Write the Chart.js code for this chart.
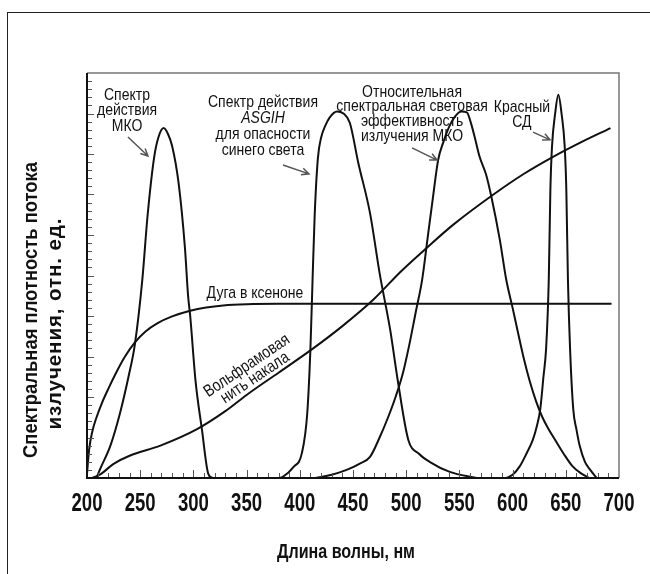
<!DOCTYPE html>
<html lang="ru">
<head>
<meta charset="utf-8">
<title>Спектральная плотность потока излучения</title>
<script src="https://cdn.jsdelivr.net/npm/chart.js@4.4.1/dist/chart.umd.min.js"></script>
<style>
  html, body { margin: 0; padding: 0; background: #fff; overflow: hidden; }
  #wrap { position: relative; width: 650px; height: 574px; }
  #ramka { position: absolute; left: 7px; top: 12px; width: 660px; height: 580px;
           border-left: 1.5px solid #222; border-top: 1.5px solid #222; }
  canvas { position: absolute; left: 0; top: 0; }
</style>
</head>
<body>
<div id="wrap">
  <div id="ramka"></div>
  <canvas id="grafik" width="650" height="574"></canvas>
</div>
<script>
// Arial-подобный шрифт, сжатый по горизонтали (как Arial Narrow в оригинале)
const SHRIFT = '"Liberation Sans", Arial, sans-serif';

// --- данные (длина волны, нм / отн. ед.) ---
const xTiki = [200, 250, 300, 350, 400, 450, 500, 550, 600, 650, 700];

// Спектр действия МКО (УФ)
const mkoVolna = [209, 212, 222, 231, 239, 245, 252, 257, 263, 267, 272, 276, 280, 286, 292, 295, 297, 302, 308, 314, 318];
const mkoZnach = [0, 0.02, 0.08, 0.16, 0.25, 0.33, 0.49, 0.65, 0.79, 0.84, 0.864, 0.85, 0.82, 0.73, 0.57, 0.45, 0.40, 0.24, 0.12, 0.01, 0];

// Спектр действия ASGIH (опасность синего света)
const asgihVolna = [380, 384, 394, 402, 407, 410, 412, 414, 417, 420, 424, 428, 435, 441, 447, 455, 466, 475, 485, 492, 502, 512, 522, 541, 566];
const asgihZnach = [0, 0.003, 0.027, 0.062, 0.16, 0.32, 0.49, 0.65, 0.79, 0.84, 0.87, 0.89, 0.905, 0.9, 0.877, 0.778, 0.654, 0.506, 0.365, 0.242, 0.094, 0.06, 0.04, 0.015, 0];

// Относительная спектральная световая эффективность МКО, V(λ)
const vVolna = [415, 430, 444, 456, 466, 475, 483, 490, 497, 503, 509, 515, 520, 525, 530, 535, 540, 546, 552, 557, 561, 565, 569, 575, 580, 588, 594, 600, 605, 611, 616, 622, 628, 634, 640, 648, 656, 664, 672];
const vZnach = [0, 0.008, 0.02, 0.035, 0.052, 0.10, 0.15, 0.2, 0.26, 0.33, 0.41, 0.49, 0.59, 0.69, 0.785, 0.83, 0.865, 0.893, 0.905, 0.903, 0.875, 0.835, 0.793, 0.75, 0.695, 0.588, 0.49, 0.42, 0.36, 0.29, 0.24, 0.19, 0.15, 0.12, 0.094, 0.06, 0.03, 0.012, 0];

// Красный СД
const sdVolna = [594, 600, 607, 613, 619, 623, 626, 629, 631.5, 634, 635.5, 637, 640, 643, 646, 649, 650.5, 652, 654, 657, 660, 663, 668, 673, 679];
const sdZnach = [0, 0.008, 0.03, 0.06, 0.094, 0.13, 0.17, 0.25, 0.32, 0.49, 0.711, 0.817, 0.9, 0.946, 0.9, 0.817, 0.711, 0.49, 0.32, 0.17, 0.12, 0.08, 0.04, 0.02, 0];

// Вольфрамовая нить накала
const wVolna = [205, 212, 225, 240, 269, 303, 330, 350, 380, 410, 440, 469, 495, 520, 544, 582, 610, 638, 665, 692];
const wZnach = [0, 0.008, 0.035, 0.055, 0.08, 0.12, 0.165, 0.205, 0.26, 0.315, 0.375, 0.44, 0.51, 0.57, 0.625, 0.70, 0.75, 0.793, 0.83, 0.864];

// Дуга в ксеноне
const xeVolna = [200, 202, 205, 209, 214, 220, 227, 235, 245, 255, 266, 280, 297, 312, 328, 350, 380, 693];
const xeZnach = [0.01, 0.07, 0.115, 0.15, 0.185, 0.22, 0.258, 0.297, 0.335, 0.362, 0.382, 0.399, 0.413, 0.421, 0.426, 0.429, 0.43, 0.43];

// подписи на поле графика (якорь в координатах данных)
const podpisi = [
  { stroki: ['Спектр', 'действия', 'МКО'], x: 237.6, y: 0.946, shag: 15.5 },
  { stroki: ['Спектр действия', 'ASGIH', 'для опасности', 'синего света'], x: 365.4, y: 0.928, shag: 16, kursiv: [1] },
  { stroki: ['Относительная', 'спектральная световая', 'эффективность', 'излучения МКО'], x: 505.5, y: 0.953, shag: 14.7 },
  { stroki: ['Красный', 'СД'], x: 608.8, y: 0.916, shag: 15 },
  { stroki: ['Дуга в ксеноне'], x: 357.9, y: 0.457, shag: 15 },
  { stroki: ['Вольфрамовая', 'нить накала'], x: 354.1, y: 0.262, shag: 14.5, ugol: -34 }
];
const strelki = [
  { ot: [238.5, 0.842], k: [257.3, 0.795] },
  { ot: [384.2, 0.773], k: [408.6, 0.751] },
  { ot: [505.5, 0.815], k: [529.0, 0.785] },
  { ot: [619.2, 0.854], k: [635.2, 0.835] }
];

const tochki = (volna, znach) => volna.map((l, i) => ({ x: l, y: znach[i] }));

// сжатие: подбираем коэффициент по ширине образца
function szhatie(ctx, font, obrazec, shirina) {
  ctx.font = font;
  ctx.letterSpacing = '0px';
  return shirina / ctx.measureText(obrazec).width;
}
function tekst(ctx, s, x, y, font, sx, razryadka) {
  ctx.save();
  ctx.translate(x, y);
  ctx.scale(sx, 1);
  ctx.font = font;
  ctx.letterSpacing = (razryadka || 0) + 'px';
  ctx.fillText(s, 0, 0);
  ctx.restore();
}

// рамка поля и внутренние засечки
const ramkaPlugin = {
  id: 'ramka',
  afterDatasetsDraw(chart) {
    const { ctx, chartArea: a, scales: { x, y } } = chart;
    ctx.save();
    ctx.strokeStyle = '#555';
    ctx.lineWidth = 1;
    for (let l = 210; l < 700; l += 10) {
      const px = Math.round(x.getPixelForValue(l)) + 0.5;
      const dl = l % 50 === 0 ? 8 : 5;
      ctx.beginPath(); ctx.moveTo(px, a.bottom); ctx.lineTo(px, a.bottom - dl); ctx.stroke();
    }
    for (let i = 1; i < 50; i++) {
      const py = Math.round(y.getPixelForValue(i * 0.02)) + 0.5;
      const dl = i % 5 === 0 ? 7 : 5;
      ctx.beginPath(); ctx.moveTo(a.left, py); ctx.lineTo(a.left + dl, py); ctx.stroke();
    }
    ctx.strokeStyle = '#777';
    ctx.lineWidth = 1.5;
    ctx.beginPath(); ctx.moveTo(a.left, a.top); ctx.lineTo(a.right, a.top); ctx.lineTo(a.right, a.bottom); ctx.stroke();
    ctx.strokeStyle = '#111';
    ctx.lineWidth = 2;
    ctx.beginPath(); ctx.moveTo(a.left, a.top); ctx.lineTo(a.left, a.bottom); ctx.lineTo(a.right, a.bottom); ctx.stroke();
    ctx.restore();
  }
};

// подписи делений, заголовки осей, подписи кривых и стрелки
const podpisiPlugin = {
  id: 'podpisi',
  afterDraw(chart) {
    const { ctx, chartArea: a, scales: { x, y } } = chart;
    ctx.save();
    ctx.fillStyle = '#111';
    ctx.textAlign = 'center';
    ctx.textBaseline = 'middle';

    // подписи делений оси X
    const fTik = 'bold 25px ' + SHRIFT;
    const sxTik = szhatie(ctx, fTik, '700', 31);
    x.ticks.forEach(t => tekst(ctx, String(t.value), x.getPixelForValue(t.value), a.bottom + 26, fTik, sxTik));

    // заголовок оси X
    const fX = 'bold 20px ' + SHRIFT;
    tekst(ctx, 'Длина волны, нм', (a.left + a.right) / 2 - 7, 552, fX, szhatie(ctx, fX, 'Длина волны, нм', 138));

    // заголовок оси Y (две строки, повернут); вторая строка чуть шире и с небольшой разрядкой
    const fY = 'bold 20px ' + SHRIFT;
    const s1 = 'Спектральная плотность потока', s2 = 'излучения, отн. ед.';
    const sxY = szhatie(ctx, fY, s1, 296);
    const sx2 = sxY * 1.12;
    const w2 = ctx.measureText(s2).width;
    const razr = (212 / sx2 - w2) / s2.length;
    ctx.save();
    ctx.translate(31, 310);
    ctx.rotate(-Math.PI / 2);
    tekst(ctx, s1, 0, 0, fY, sxY);
    tekst(ctx, s2, -14 + razr * sx2 / 2, 24, fY, sx2, razr);
    ctx.restore();

    // подписи кривых
    const fP = '17px ' + SHRIFT;
    const sxP = szhatie(ctx, fP, 'Спектр действия', 110);
    podpisi.forEach(p => {
      ctx.save();
      ctx.translate(x.getPixelForValue(p.x), y.getPixelForValue(p.y));
      if (p.ugol) ctx.rotate(p.ugol * Math.PI / 180);
      const y0 = p.ugol ? -(p.stroki.length - 1) * p.shag / 2 : 0;
      p.stroki.forEach((s, i) => {
        const it = p.kursiv && p.kursiv.includes(i);
        tekst(ctx, s, 0, y0 + i * p.shag, (it ? 'italic ' : '') + fP, sxP);
      });
      ctx.restore();
    });

    // стрелки
    ctx.strokeStyle = '#555';
    ctx.lineWidth = 1.5;
    strelki.forEach(s => {
      const x1 = x.getPixelForValue(s.ot[0]), y1 = y.getPixelForValue(s.ot[1]);
      const x2 = x.getPixelForValue(s.k[0]), y2 = y.getPixelForValue(s.k[1]);
      const ug = Math.atan2(y2 - y1, x2 - x1);
      ctx.beginPath();
      ctx.moveTo(x1, y1); ctx.lineTo(x2, y2);
      ctx.moveTo(x2 - 8 * Math.cos(ug - 0.45), y2 - 8 * Math.sin(ug - 0.45));
      ctx.lineTo(x2, y2);
      ctx.lineTo(x2 - 8 * Math.cos(ug + 0.45), y2 - 8 * Math.sin(ug + 0.45));
      ctx.stroke();
    });
    ctx.restore();
  }
};

const linija = (volna, znach) => ({
  data: tochki(volna, znach),
  borderColor: '#111',
  borderWidth: 2,
  pointRadius: 0,
  cubicInterpolationMode: 'monotone',
  fill: false
});

new Chart(document.getElementById('grafik'), {
  type: 'line',
  data: {
    datasets: [
      linija(xeVolna, xeZnach),
      linija(wVolna, wZnach),
      linija(mkoVolna, mkoZnach),
      linija(asgihVolna, asgihZnach),
      linija(vVolna, vZnach),
      linija(sdVolna, sdZnach)
    ]
  },
  options: {
    responsive: false,
    animation: false,
    layout: { padding: { left: 7, right: 31, top: 73, bottom: 0 } },
    plugins: { legend: { display: false }, tooltip: { enabled: false } },
    scales: {
      x: {
        type: 'linear', min: 200, max: 700,
        afterBuildTicks(s) { s.ticks = xTiki.map(v => ({ value: v })); },
        afterFit(s) { s.height = 96; },
        grid: { display: false, drawTicks: false },
        border: { display: false },
        ticks: { display: false }
      },
      y: {
        type: 'linear', min: 0, max: 1,
        afterFit(s) { s.width = 80; },
        grid: { display: false, drawTicks: false },
        border: { display: false },
        ticks: { display: false }
      }
    }
  },
  plugins: [ramkaPlugin, podpisiPlugin]
});
</script>
</body>
</html>
